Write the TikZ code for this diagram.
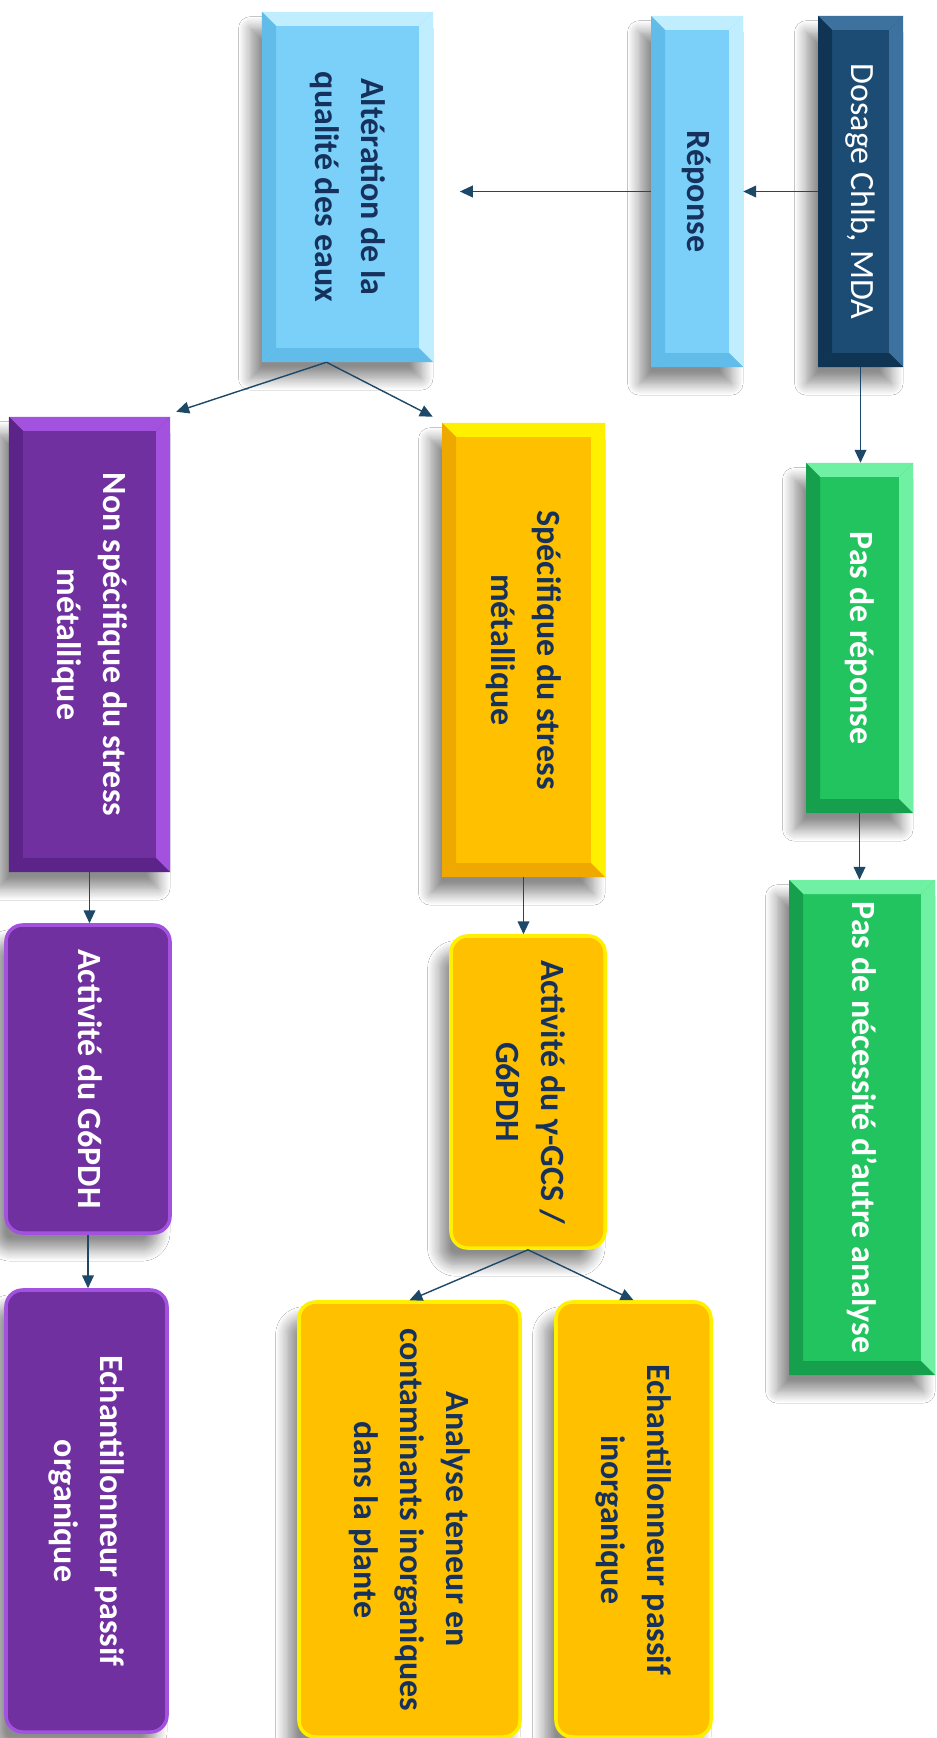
\documentclass[tikz,border=0pt]{standalone}
\usepackage{fontspec}
\setmainfont{Carlito}
\usepackage{graphicx}
\usetikzlibrary{positioning,calc}
\usetikzlibrary{arrows.meta,shadows.blur}
\definecolor{DeepNavy}{RGB}{28,76,116}
\definecolor{NavyEdge}{RGB}{62,114,158}
\definecolor{NavyDark}{RGB}{16,52,84}
\definecolor{SkyFill}{RGB}{122,208,248}
\definecolor{SkyEdge}{RGB}{192,238,255}
\definecolor{SkyDark}{RGB}{98,188,234}
\definecolor{LeafFill}{RGB}{34,196,96}
\definecolor{LeafEdge}{RGB}{112,240,162}
\definecolor{LeafDark}{RGB}{22,160,78}
\definecolor{PlumFill}{RGB}{112,48,160}
\definecolor{PlumEdge}{RGB}{162,82,222}
\definecolor{PlumDark}{RGB}{92,36,136}
\definecolor{GoldFill}{RGB}{255,192,0}
\definecolor{GoldEdge}{RGB}{255,240,0}
\definecolor{GoldDark}{RGB}{238,168,0}
\definecolor{InkBlue}{RGB}{22,50,92}
\definecolor{ArrowBlue}{RGB}{30,72,104}
\newcommand{\bevw}{0.42cm}
\newcommand{\vtxt}[1]{\rotatebox{-90}{\begin{tabular}{@{}c@{}}#1\end{tabular}}}
\tikzset{
  card/.style={inner sep=0pt,font=\fontsize{29}{39}\selectfont\bfseries,
    blur shadow={shadow xshift=-10pt,shadow yshift=-14pt,shadow blur radius=10pt,
      shadow blur steps=12,shadow opacity=45}},
  thin/.style={font=\fontsize{29}{39}\selectfont},
  bevel/.style n args={3}{card,fill=#1,path picture={
      \def\pb{path picture bounding box}
      \fill[#2] (\pb.north west) -- (\pb.north east)
        -- ([shift={(-\bevw,-\bevw)}]\pb.north east) -- ([shift={(\bevw,-\bevw)}]\pb.north west) -- cycle;
      \fill[#2] (\pb.north east) -- (\pb.south east)
        -- ([shift={(-\bevw,\bevw)}]\pb.south east) -- ([shift={(-\bevw,-\bevw)}]\pb.north east) -- cycle;
      \fill[#3] (\pb.south east) -- (\pb.south west)
        -- ([shift={(\bevw,\bevw)}]\pb.south west) -- ([shift={(-\bevw,\bevw)}]\pb.south east) -- cycle;
      \fill[#3] (\pb.south west) -- (\pb.north west)
        -- ([shift={(\bevw,-\bevw)}]\pb.north west) -- ([shift={(\bevw,\bevw)}]\pb.south west) -- cycle;
  }},
  rnd/.style 2 args={card,fill=#1,draw=#2,line width=3pt,rounded corners=0.5cm},
  link/.style={draw=ArrowBlue,line width=1.2pt,-{Triangle[length=11pt,width=10pt]}},
}

\begin{document}
\begin{tikzpicture}[x=0.03cm,y=-0.03cm]
  \fill[white] (0,0) rectangle (937,1738);
  \useasboundingbox (0,0) rectangle (937,1738);
  % top row
  \node[bevel={DeepNavy}{NavyEdge}{NavyDark},thin,text=white,minimum width=2.55cm,minimum height=10.53cm]
    (dosage) at (860.5,191.5) {\vtxt{Dosage Chlb, MDA}};
  \node[bevel={SkyFill}{SkyEdge}{SkyDark},text=InkBlue,minimum width=2.76cm,minimum height=10.53cm]
    (reponse) at (697,191.5) {\vtxt{Réponse}};
  \node[bevel={SkyFill}{SkyEdge}{SkyDark},text=InkBlue,minimum width=5.13cm,minimum height=10.5cm]
    (alteration) at (347.5,187) {\vtxt{Altération de la\\qualité des eaux}};
  % no response branch
  \node[bevel={LeafFill}{LeafEdge}{LeafDark},text=white,minimum width=3.21cm,minimum height=10.5cm]
    (pasrep) at (859.5,638) {\vtxt{Pas de réponse}};
  \node[bevel={LeafFill}{LeafEdge}{LeafDark},text=white,minimum width=4.38cm,minimum height=14.85cm]
    (pasnec) at (862,1127.5) {\vtxt{Pas de nécessité d’autre analyse}};
  % stress branches
  \node[bevel={PlumFill}{PlumEdge}{PlumDark},text=white,minimum width=4.83cm,minimum height=13.65cm]
    (nonspec) at (89.5,644.5) {\vtxt{Non spécifique du stress\\métallique}};
  \node[bevel={GoldFill}{GoldEdge}{GoldDark},text=InkBlue,minimum width=4.89cm,minimum height=13.62cm]
    (spec) at (523.5,650) {\vtxt{Spécifique du stress\\métallique}};
  \node[rnd={PlumFill}{PlumEdge},text=white,minimum width=4.92cm,minimum height=9.24cm]
    (actg6) at (88,1079) {\vtxt{Activité du G6PDH}};
  \node[rnd={GoldFill}{GoldEdge},text=InkBlue,minimum width=4.62cm,minimum height=9.36cm]
    (actgcs) at (528,1092) {\vtxt{Activité du γ-GCS /\\G6PDH}};
  % samplers
  \node[rnd={PlumFill}{PlumEdge},text=white,minimum width=4.83cm,minimum height=13.26cm]
    (echorg) at (86.5,1511) {\vtxt{Echantillonneur passif\\organique}};
  \node[rnd={GoldFill}{GoldEdge},text=InkBlue,minimum width=6.63cm,minimum height=13.05cm]
    (analyse) at (409.5,1519.5) {\vtxt{Analyse teneur en\\contaminants inorganiques\\dans la plante}};
  \node[rnd={GoldFill}{GoldEdge},text=InkBlue,minimum width=4.65cm,minimum height=13.05cm]
    (echinorg) at (633.5,1519.5) {\vtxt{Echantillonneur passif\\inorganique}};
  % connectors
  \draw[link] (dosage.west) -- (reponse.east);
  \draw[link,shorten >=0.8cm] (reponse.west) -- (reponse.west -| alteration.east);
  \foreach \a/\b in {dosage/pasrep,pasrep/pasnec,nonspec/actg6,spec/actgcs,actg6/echorg}
    \draw[link] (\a.south) -- (\a.south |- \b.north);
  \draw[link] ([xshift=-0.63cm]alteration.south) -- ([shift={(0.18cm,0.15cm)}]nonspec.north east);
  \draw[link] ([xshift=-0.63cm]alteration.south) -- ([shift={(-0.27cm,0.18cm)}]spec.north west);
  \draw[link] (actgcs.south) -- (analyse.north);
  \draw[link] (actgcs.south) -- (echinorg.north);
\end{tikzpicture}
\end{document}
